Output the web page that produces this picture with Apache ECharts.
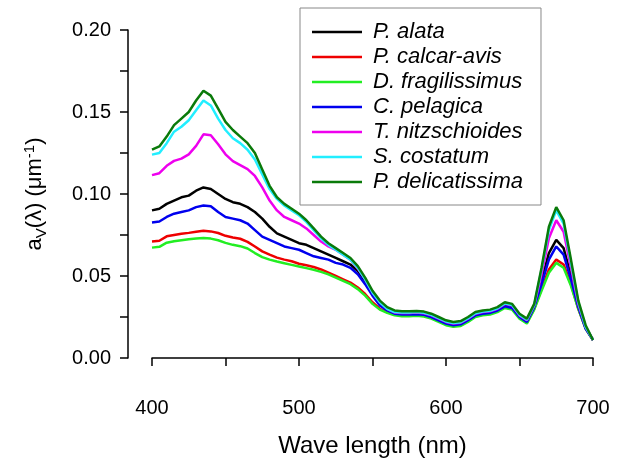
<!DOCTYPE html>
<html><head><meta charset="utf-8">
<script src="https://cdn.jsdelivr.net/npm/echarts@6/dist/echarts.min.js"></script>
<style>html,body{margin:0;padding:0;background:#fff}#c{width:617px;height:463px}</style>
</head><body><div id="c"></div>
<script>
var wavelengths = [400,405,410,415,420,425,430,435,440,445,450,455,460,465,470,475,480,485,490,495,500,505,510,515,520,525,530,535,540,545,550,555,560,565,570,575,580,585,590,595,600,605,610,615,620,625,630,635,640,645,650,655,660,665,670,675,680,685,690,695,700];
var seriesNames = ["P. alata","P. calcar-avis","D. fragilissimus","C. pelagica","T. nitzschioides","S. costatum","P. delicatissima"];
var pAlata = [0.090,0.091,0.094,0.096,0.098,0.099,0.102,0.104,0.103,0.100,0.097,0.095,0.094,0.092,0.089,0.085,0.080,0.076,0.074,0.072,0.070,0.069,0.067,0.065,0.063,0.061,0.059,0.057,0.053,0.047,0.039,0.033,0.0295,0.0275,0.027,0.027,0.0272,0.0268,0.0255,0.0235,0.0215,0.0205,0.021,0.0235,0.0265,0.0275,0.028,0.0295,0.032,0.031,0.0255,0.0225,0.0315,0.047,0.064,0.072,0.067,0.050,0.032,0.0185,0.011];
var pCalcarAvis = [0.0711,0.0715,0.0742,0.0750,0.0757,0.0763,0.0770,0.0776,0.0772,0.0762,0.0745,0.0735,0.0727,0.0708,0.068,0.065,0.063,0.0612,0.060,0.059,0.0575,0.0565,0.0555,0.054,0.052,0.050,0.048,0.046,0.043,0.039,0.034,0.030,0.028,0.0265,0.026,0.026,0.0262,0.0258,0.0245,0.0225,0.0205,0.0195,0.020,0.0225,0.0255,0.0265,0.027,0.0285,0.031,0.030,0.0245,0.0215,0.030,0.042,0.054,0.060,0.057,0.045,0.030,0.018,0.011];
var dFragilissimus = [0.0673,0.0678,0.0703,0.0712,0.0718,0.0724,0.0729,0.0732,0.0728,0.0718,0.0702,0.0690,0.0682,0.0668,0.064,0.0615,0.060,0.0588,0.0578,0.0568,0.0558,0.0548,0.0538,0.0525,0.051,0.049,0.047,0.045,0.042,0.038,0.033,0.0295,0.0275,0.026,0.0255,0.0255,0.0257,0.0253,0.024,0.022,0.020,0.019,0.0195,0.022,0.025,0.026,0.0265,0.028,0.0305,0.0295,0.024,0.021,0.0295,0.041,0.052,0.058,0.055,0.044,0.030,0.018,0.011];
var cPelagica = [0.0826,0.0832,0.086,0.088,0.089,0.090,0.092,0.093,0.0925,0.089,0.086,0.085,0.084,0.082,0.078,0.074,0.072,0.070,0.068,0.067,0.066,0.064,0.062,0.061,0.060,0.058,0.057,0.055,0.051,0.045,0.038,0.032,0.029,0.027,0.0265,0.0265,0.0267,0.0263,0.025,0.023,0.021,0.020,0.0205,0.023,0.026,0.027,0.0275,0.029,0.0315,0.0305,0.025,0.022,0.031,0.045,0.060,0.068,0.063,0.048,0.031,0.018,0.011];
var tNitzschioides = [0.1115,0.1127,0.1172,0.1202,0.1216,0.1242,0.1293,0.1364,0.1358,0.1303,0.1242,0.120,0.1176,0.1152,0.111,0.104,0.096,0.090,0.086,0.084,0.082,0.079,0.075,0.071,0.068,0.066,0.063,0.060,0.0545,0.048,0.040,0.034,0.030,0.0278,0.0275,0.0275,0.0277,0.0273,0.026,0.024,0.022,0.021,0.0215,0.024,0.027,0.028,0.0285,0.030,0.033,0.032,0.026,0.023,0.032,0.051,0.073,0.084,0.077,0.055,0.033,0.019,0.011];
var sCostatum = [0.124,0.125,0.131,0.138,0.141,0.145,0.151,0.157,0.154,0.146,0.139,0.134,0.131,0.127,0.121,0.112,0.103,0.097,0.093,0.090,0.087,0.083,0.078,0.073,0.069,0.066,0.063,0.060,0.055,0.048,0.040,0.034,0.030,0.028,0.0278,0.0278,0.028,0.0276,0.0263,0.0243,0.0223,0.0213,0.0218,0.0243,0.0273,0.0283,0.0288,0.0303,0.0333,0.0323,0.0263,0.0233,0.0323,0.054,0.078,0.090,0.082,0.058,0.034,0.019,0.011];
var pDelicatissima = [0.127,0.129,0.135,0.142,0.146,0.150,0.157,0.163,0.160,0.152,0.144,0.139,0.135,0.131,0.125,0.115,0.105,0.098,0.094,0.091,0.088,0.084,0.079,0.074,0.070,0.067,0.064,0.061,0.056,0.049,0.041,0.035,0.031,0.029,0.0285,0.0285,0.0287,0.0283,0.027,0.025,0.023,0.022,0.0225,0.025,0.028,0.029,0.0295,0.031,0.034,0.033,0.027,0.024,0.033,0.055,0.080,0.092,0.084,0.060,0.035,0.020,0.011];
var xTicks = [400,500,600,700];
var yTicks = [0.00,0.05,0.10,0.15,0.20];

var values = [pAlata,pCalcarAvis,dFragilissimus,cPelagica,tNitzschioides,sCostatum,pDelicatissima];
var colors = ['#000000','#ee0000','#22ee22','#0000ee','#ee00ee','#22eeff','#0a7a0a'];
var FF = "'Liberation Sans', Arial, sans-serif";

var chart = echarts.init(document.getElementById('c'), null, {renderer:'canvas'});
var series = seriesNames.map(function(n,i){
  return {name:n,type:'line',showSymbol:false,symbol:'none',
    lineStyle:{color:colors[i],width:2.5},itemStyle:{color:colors[i]},
    data:wavelengths.map(function(w,j){return [w,values[i][j]];}),z:2+i};
});
chart.setOption({
  animation:false,
  backgroundColor:'#fff',
  textStyle:{fontFamily:FF},
  grid:{left:152,right:24,top:30,bottom:103},
  legend:{
    orient:'vertical',left:300,top:8,
    data:seriesNames,
    icon:'rect',itemWidth:50,itemHeight:2.5,itemGap:3,
    borderColor:'#888',borderWidth:1,backgroundColor:'#fff',
    padding:[13,18,12,12],
    textStyle:{fontFamily:FF,fontSize:22,fontStyle:'italic',color:'#000',lineHeight:21,padding:[0,0,0,6]}
  },
  xAxis:{
    type:'value',min:400,max:700,interval:100,
    offset:18,
    axisLine:{lineStyle:{color:'#000',width:1.5}},
    axisTick:{length:8,lineStyle:{color:'#000',width:1.5}},
    minorTick:{show:true,splitNumber:2,length:8,lineStyle:{color:'#000',width:1.5}},
    splitLine:{show:false},minorSplitLine:{show:false},
    axisLabel:{color:'#000',fontSize:20,margin:22,fontFamily:FF,
      formatter:function(v){return xTicks.indexOf(v)>=0?String(v):'';}},
    name:'Wave length (nm)',nameLocation:'middle',nameGap:58,
    nameTextStyle:{color:'#000',fontSize:24,fontFamily:FF}
  },
  yAxis:{
    type:'value',min:0,max:0.2,interval:0.05,
    offset:24,
    axisLine:{show:true,lineStyle:{color:'#000',width:1.5}},
    axisTick:{show:true,length:8,lineStyle:{color:'#000',width:1.5}},
    minorTick:{show:true,splitNumber:2,length:8,lineStyle:{color:'#000',width:1.5}},
    splitLine:{show:false},minorSplitLine:{show:false},
    axisLabel:{color:'#000',fontSize:20,margin:17,fontFamily:FF,
      formatter:function(v){
        for(var k=0;k<yTicks.length;k++){if(Math.abs(yTicks[k]-v)<1e-9)return yTicks[k].toFixed(2);}
        return '';}},
    name:'{a|a}{s|V}{a|(λ) (μm}{p|-1}{a|)}',nameLocation:'middle',nameGap:82,nameRotate:90,
    nameTextStyle:{color:'#000',fontFamily:FF,
      rich:{a:{fontSize:22,color:'#000',fontFamily:FF,verticalAlign:'bottom',lineHeight:24},
            s:{fontSize:15,color:'#000',fontFamily:FF,verticalAlign:'bottom',lineHeight:18,padding:[0,0,-3,0]},
            p:{fontSize:15,color:'#000',fontFamily:FF,verticalAlign:'top',lineHeight:18}}}
  },
  series:series
});
</script></body></html>
